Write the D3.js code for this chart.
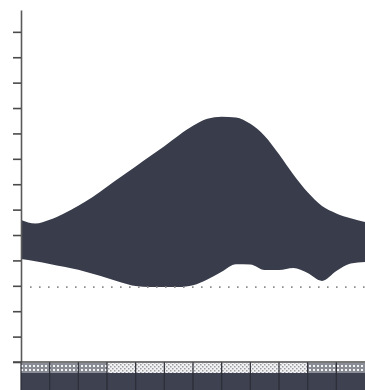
<!DOCTYPE html>
<html>
<head>
<meta charset="utf-8">
<script src="https://cdn.jsdelivr.net/npm/d3@7/dist/d3.min.js"></script>
<style>
  html, body { margin: 0; padding: 0; background: #fff; }
  svg { display: block; }
</style>
</head>
<body>
<svg id="chart" width="365" height="390"></svg>
<script>
// Half-month steps across the year (0 = start of January, 24 = end of December)
const steps = d3.range(0, 25);
// Upper and lower envelope of the band, in axis units
const upper = [5.59, 5.45, 5.60, 5.85, 6.15, 6.50, 6.90, 7.30, 7.70, 8.10, 8.50, 8.92, 9.30,
               9.58, 9.66, 9.63, 9.38, 8.90, 8.18, 7.38, 6.68, 6.14, 5.85, 5.66, 5.51];
const lower = [4.06, 3.97, 3.86, 3.75, 3.63, 3.47, 3.31, 3.13, 2.99, 2.95, 2.95, 2.95, 3.02,
               3.25, 3.55, 3.85, 3.84, 3.62, 3.62, 3.70, 3.50, 3.19, 3.58, 3.88, 3.94];
// Reference level drawn as a dotted line
const threshold = [2.95];
// Months and their season strip
const months = ["Jan","Feb","Mar","Apr","May","Jun","Jul","Aug","Sep","Oct","Nov","Dec"];
const seasons = ["winter","winter","winter","summer","summer","summer","summer",
                 "summer","summer","summer","winter","winter"];
// Y axis ticks (unlabelled)
const yTicks = d3.range(0, 14);

const svg = d3.select("#chart");
const plotLeft = 21, plotRight = 365, plotTop = 10, plotBottom = 362;

const x = d3.scaleLinear().domain([0, 24]).range([plotLeft, plotRight]);
const xm = d3.scaleBand().domain(months).range([plotLeft, plotRight]).padding(0);
const y = d3.scaleLinear().domain([0, 13.86]).range([plotBottom, plotTop]);

// patterns for the season strip
const defs = svg.append("defs");
const grid = defs.append("pattern").attr("id", "pat-winter")
  .attr("patternUnits", "userSpaceOnUse").attr("width", 4).attr("height", 4);
grid.append("rect").attr("width", 4).attr("height", 4).attr("fill", "#8a8d96");
grid.append("rect").attr("x", 1).attr("y", 1).attr("width", 2).attr("height", 2).attr("fill", "#f4f4f4");
const dots = defs.append("pattern").attr("id", "pat-summer")
  .attr("patternUnits", "userSpaceOnUse").attr("width", 4).attr("height", 4);
dots.append("rect").attr("width", 4).attr("height", 4).attr("fill", "#f2f2f2");
dots.append("rect").attr("x", 0).attr("y", 0).attr("width", 1.5).attr("height", 1.5).attr("fill", "#9a9ca4");
dots.append("rect").attr("x", 2).attr("y", 2).attr("width", 1.5).attr("height", 1.5).attr("fill", "#9a9ca4");

// band between lower and upper envelope
const rows = steps.map((s, i) => ({ s, hi: upper[i], lo: lower[i] }));
const area = d3.area()
  .x(d => x(d.s))
  .y0(d => y(d.lo))
  .y1(d => y(d.hi))
  .curve(d3.curveMonotoneX);
svg.append("path").datum(rows)
  .attr("d", area)
  .attr("fill", "#383c4b");

// dotted reference line
svg.selectAll(".ref").data(threshold).enter().append("line")
  .attr("x1", plotLeft + 9).attr("x2", plotRight)
  .attr("y1", d => y(d)).attr("y2", d => y(d))
  .attr("stroke", "#8c8c8c").attr("stroke-width", 1.6)
  .attr("stroke-dasharray", "1.6,7.4");

// season strip and dark base strip
const strip = svg.append("g");
strip.selectAll(".season").data(months).enter().append("rect")
  .attr("x", d => xm(d)).attr("y", plotBottom + 1)
  .attr("width", xm.bandwidth()).attr("height", 10)
  .attr("fill", (d, i) => `url(#pat-${seasons[i]})`);
strip.selectAll(".base").data(months).enter().append("rect")
  .attr("x", d => xm(d)).attr("y", plotBottom + 11)
  .attr("width", xm.bandwidth()).attr("height", 390 - plotBottom - 11)
  .attr("fill", "#3d4150");
strip.selectAll(".sep").data(months).enter().append("line")
  .attr("x1", d => xm(d)).attr("x2", d => xm(d))
  .attr("y1", plotBottom).attr("y2", 390)
  .attr("stroke", "#2a2c35").attr("stroke-width", 1.2);

// y axis
const yAxis = d3.axisLeft(y).tickValues(yTicks).tickSize(8).tickSizeOuter(0).tickFormat("");
const gy = svg.append("g").attr("transform", `translate(${plotLeft},0)`).call(yAxis);
gy.select(".domain").attr("stroke", "#5a5a5a").attr("stroke-width", 1.6);
gy.selectAll(".tick line").attr("stroke", "#4a4a4a").attr("stroke-width", 1.6);

// x axis baseline
svg.append("line")
  .attr("x1", plotLeft - 8).attr("x2", plotRight)
  .attr("y1", plotBottom).attr("y2", plotBottom)
  .attr("stroke", "#4a4a4a").attr("stroke-width", 1.6);
</script>
</body>
</html>
